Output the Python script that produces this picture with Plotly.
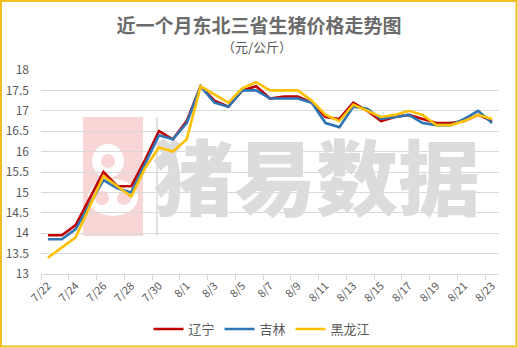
import plotly.graph_objects as go

# Dates (categories) and prices in 元/公斤
dates = ["7/22", "7/23", "7/24", "7/25", "7/26", "7/27", "7/28", "7/29", "7/30", "7/31",
         "8/1", "8/2", "8/3", "8/4", "8/5", "8/6", "8/7", "8/8", "8/9", "8/10",
         "8/11", "8/12", "8/13", "8/14", "8/15", "8/16", "8/17", "8/18", "8/19", "8/20",
         "8/21", "8/22", "8/23"]

liaoning = [13.95, 13.95, 14.2, 14.85, 15.5, 15.15, 15.15, 15.8, 16.5, 16.3,
            16.75, 17.6, 17.25, 17.1, 17.5, 17.6, 17.3, 17.35, 17.35, 17.2,
            16.85, 16.8, 17.2, 17.0, 16.75, 16.85, 16.9, 16.8, 16.7, 16.7,
            16.75, 16.9, 16.75]
jilin = [13.85, 13.85, 14.1, 14.7, 15.3, 15.1, 15.0, 15.7, 16.4, 16.3,
         16.7, 17.6, 17.2, 17.1, 17.5, 17.5, 17.3, 17.3, 17.3, 17.2,
         16.7, 16.6, 17.1, 17.05, 16.8, 16.85, 16.9, 16.7, 16.65, 16.65,
         16.8, 17.0, 16.7]
heilongjiang = [13.4, 13.65, 13.9, 14.65, 15.4, 15.15, 14.9, 15.6, 16.1, 16.0,
                16.3, 17.6, 17.4, 17.2, 17.55, 17.7, 17.5, 17.5, 17.5, 17.25,
                16.9, 16.75, 17.15, 17.0, 16.85, 16.9, 17.0, 16.9, 16.65, 16.65,
                16.75, 16.9, 16.8]

series = [("辽宁", liaoning, "#C00000"),
          ("吉林", jilin, "#2E75B6"),
          ("黑龙江", heilongjiang, "#FFC000")]

y_ticks = [13, 13.5, 14, 14.5, 15, 15.5, 16, 16.5, 17, 17.5, 18]

W, H = 518, 348
L, R, T, B = 41, 499, 70, 274  # plot area in pixels

idx = list(range(len(dates)))
x_lo, x_hi = -0.5, len(dates) - 0.5
y_lo, y_hi = 13, 18


def px(xp):
    return (xp - L) / (R - L)


def py(yp):
    return (B - yp) / (B - T)


def to_data(xp, yp):
    return (x_lo + px(xp) * (x_hi - x_lo), y_lo + py(yp) * (y_hi - y_lo))


fig = go.Figure()

# Watermark text, drawn first so the price lines sit above it
wx, wy = to_data(316, 188)
fig.add_trace(go.Scatter(
    x=[wx], y=[wy], mode="text", text=["猪易数据"],
    textfont=dict(family="Noto Sans CJK SC", size=82, color="#DCDCDC", weight=900),
    hoverinfo="skip", showlegend=False))

for name, vals, color in series:
    fig.add_trace(go.Scatter(
        x=idx, y=vals, mode="lines", name=name,
        line=dict(color=color, width=2.6)))

pink = "#F8D6D6"
shapes = [
    # watermark logo block
    dict(type="rect", xref="paper", yref="paper", layer="below",
         x0=px(83), x1=px(143), y0=py(236), y1=py(117),
         fillcolor=pink, line=dict(width=0)),
    dict(type="circle", xref="paper", yref="paper", layer="below",
         x0=px(92), x1=px(124), y0=py(178), y1=py(144),
         fillcolor="white", line=dict(width=0)),
    dict(type="circle", xref="paper", yref="paper", layer="below",
         x0=px(101), x1=px(115), y0=py(168), y1=py(154),
         fillcolor=pink, line=dict(width=0)),
    dict(type="circle", xref="paper", yref="paper", layer="below",
         x0=px(88), x1=px(138), y0=py(216), y1=py(179),
         fillcolor="white", line=dict(width=0)),
    dict(type="circle", xref="paper", yref="paper", layer="below",
         x0=px(95), x1=px(109), y0=py(205), y1=py(191),
         fillcolor=pink, line=dict(width=0)),
    dict(type="circle", xref="paper", yref="paper", layer="below",
         x0=px(117), x1=px(131), y0=py(205), y1=py(191),
         fillcolor=pink, line=dict(width=0)),
    dict(type="line", xref="paper", yref="paper", layer="below",
         x0=px(157), x1=px(157), y0=py(236), y1=py(117),
         line=dict(color="#E2E2E2", width=2)),
    # outer frame
    dict(type="rect", xref="paper", yref="paper",
         x0=px(1), x1=px(W - 1.5), y0=py(H - 1.5), y1=py(1),
         line=dict(color="#F2BE22", width=2), fillcolor="rgba(0,0,0,0)"),
]

fig.update_layout(
    width=W, height=H,
    margin=dict(l=L, r=W - R, t=T, b=H - B, pad=0, autoexpand=False),
    paper_bgcolor="white", plot_bgcolor="white",
    font=dict(family="Noto Sans CJK SC", color="#595959", size=12),
    title=dict(text="<b>近一个月东北三省生猪价格走势图</b>",
               x=0.5, xanchor="center", xref="container",
               y=1 - 26 / H, yanchor="middle", yref="container",
               font=dict(size=19, color="#6B6B6B")),
    showlegend=True,
    legend=dict(orientation="h", x=px(262), xanchor="center",
                y=(H - 329) / H, yref="container", yanchor="middle",
                font=dict(size=13, color="#595959"),
                bgcolor="rgba(0,0,0,0)", itemwidth=30, tracegroupgap=0),
    shapes=shapes,
    annotations=[dict(text="（元/公斤）", xref="paper", yref="paper",
                      x=px(257), y=py(47), xanchor="center", yanchor="middle",
                      showarrow=False, font=dict(size=13, color="#595959"))],
)

fig.update_xaxes(
    range=[x_lo, x_hi], automargin=False,
    tickmode="array", tickvals=idx[::2], ticktext=dates[::2],
    tickangle=-45, tickfont=dict(size=11, color="#595959"),
    ticks="", showgrid=False, zeroline=False,
    showline=True, linecolor="#D9D9D9", linewidth=1,
    minor=dict(ticks="outside", tick0=-0.5, dtick=2, ticklen=5,
               tickcolor="#D9D9D9", showgrid=False),
)
fig.update_yaxes(
    range=[y_lo, y_hi], automargin=False, tickmode="array", tickvals=y_ticks,
    ticktext=[f"{v:g}" for v in y_ticks],
    tickfont=dict(size=12, color="#595959"),
    showgrid=True, gridcolor="#D9D9D9", gridwidth=1,
    zeroline=False, showline=False, ticks="", ticklabelstandoff=11,
)

fig.write_html("out.html")
